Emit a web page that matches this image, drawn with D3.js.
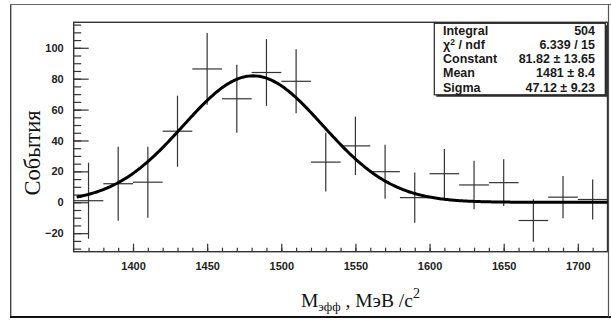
<!DOCTYPE html>
<html>
<head>
<meta charset="utf-8">
<script src="https://cdn.jsdelivr.net/npm/d3@7"></script>
<style>
  html, body { margin: 0; padding: 0; background: #fff; }
  svg { display: block; }
</style>
</head>
<body>
<svg id="chart" width="611" height="320"></svg>
<script>
// Invariant-mass histogram (20 MeV bins) with Gaussian fit
const binCenters = [1370, 1390, 1410, 1430, 1450, 1470, 1490, 1510, 1530,
                    1550, 1570, 1590, 1610, 1630, 1650, 1670, 1690, 1710];
const counts = [1, 12, 13, 46, 86.3, 67, 84, 78.3, 26,
                36.5, 19.8, 3, 18.5, 11.2, 12.7, -11.8, 3.3, 1.8];
const errors = [24.6, 24, 23, 23, 23.2, 22, 21.6, 20.7, 19,
                18.9, 17.5, 16.2, 16, 15.7, 15.1, 13.7, 13.7, 13];
const binWidth = 20;

// Fit parameters (gaus)
const fitConstant = 81.82;
const fitMean = 1481;
const fitSigma = 47.12;

// Statistics box rows
const statLabels = ["Integral", "χ2 / ndf", "Constant", "Mean", "Sigma"];
const statValues = ["504", "6.339 / 15", "81.82 ± 13.65", "1481 ± 8.4", "47.12 ± 9.23"];

const xMajorTicks = [1400, 1450, 1500, 1550, 1600, 1650, 1700];
const yMajorTicks = [-20, 0, 20, 40, 60, 80, 100];

const svg = d3.select("#chart");
const frame = { left: 73.7, right: 607.5, top: 22.3, bottom: 251.7 };

const x = d3.scaleLinear().domain([1360, 1720]).range([frame.left, frame.right]);
const y = d3.scaleLinear().domain([-32, 116.5]).range([frame.bottom, frame.top]);

// outer canvas border
const outer = svg.append("g").attr("fill", "none");
outer.append("line").attr("x1", 10.5).attr("x2", 611).attr("y1", 4.5).attr("y2", 4.5)
  .attr("stroke", "#666").attr("stroke-width", 1.2);
outer.append("line").attr("x1", 10.7).attr("x2", 10.7).attr("y1", 4.5).attr("y2", 317)
  .attr("stroke", "#444").attr("stroke-width", 1.4);
outer.append("line").attr("x1", 10).attr("x2", 611).attr("y1", 317).attr("y2", 317)
  .attr("stroke", "#111").attr("stroke-width", 2);
outer.append("line").attr("x1", 608.5).attr("x2", 608.5).attr("y1", 4.5).attr("y2", 317)
  .attr("stroke", "#555").attr("stroke-width", 1.2);

// plot frame
svg.append("rect")
  .attr("x", frame.left).attr("y", frame.top)
  .attr("width", frame.right - frame.left).attr("height", frame.bottom - frame.top)
  .attr("fill", "none").attr("stroke", "#333").attr("stroke-width", 1.4);

const tickFont = "'Liberation Sans', Arial, sans-serif";

// y axis: major and minor ticks pointing inward
const yMinor = d3.range(-30, 116, 5);
svg.append("g")
  .attr("transform", `translate(${frame.left},0)`)
  .call(d3.axisLeft(y).tickValues(yMinor).tickSize(-7.5).tickFormat(""))
  .call(g => g.select(".domain").remove())
  .call(g => g.selectAll("line").attr("stroke", "#333").attr("stroke-width", 1.2));
svg.append("g")
  .attr("transform", `translate(${frame.left},0)`)
  .call(d3.axisLeft(y).tickValues(yMajorTicks).tickSize(-15).tickPadding(10))
  .call(g => g.select(".domain").remove())
  .call(g => g.selectAll("line").attr("stroke", "#333").attr("stroke-width", 1.2))
  .call(g => g.selectAll("text")
    .attr("font-family", tickFont).attr("font-size", 11).attr("font-weight", "bold")
    .attr("fill", "#222"));

// x axis
const xMinor = d3.range(1370, 1720, 10);
svg.append("g")
  .attr("transform", `translate(0,${frame.bottom})`)
  .call(d3.axisBottom(x).tickValues(xMinor).tickSize(-4).tickFormat(""))
  .call(g => g.select(".domain").remove())
  .call(g => g.selectAll("line").attr("stroke", "#333").attr("stroke-width", 1.2));
svg.append("g")
  .attr("transform", `translate(0,${frame.bottom})`)
  .call(d3.axisBottom(x).tickValues(xMajorTicks).tickSize(-8).tickPadding(11).tickFormat(d3.format("d")))
  .call(g => g.select(".domain").remove())
  .call(g => g.selectAll("line").attr("stroke", "#333").attr("stroke-width", 1.2))
  .call(g => g.selectAll("text")
    .attr("font-family", tickFont).attr("font-size", 11).attr("font-weight", "bold")
    .attr("fill", "#222"));

// histogram points with error bars
const data = binCenters.map((c, i) => ({ c, v: counts[i], e: errors[i] }));
const pts = svg.append("g").attr("stroke", "#333").attr("stroke-width", 1.2);
pts.selectAll(".hbar").data(data).join("line")
  .attr("x1", d => x(d.c - binWidth / 2)).attr("x2", d => x(d.c + binWidth / 2))
  .attr("y1", d => y(d.v)).attr("y2", d => y(d.v));
pts.selectAll(".vbar").data(data).join("line")
  .attr("x1", d => x(d.c)).attr("x2", d => x(d.c))
  .attr("y1", d => y(d.v - d.e)).attr("y2", d => y(d.v + d.e));

// Gaussian fit curve
const gaus = m => fitConstant * Math.exp(-0.5 * Math.pow((m - fitMean) / fitSigma, 2));
const curveX = d3.range(1362, 1720.01, 1);
svg.append("path")
  .datum(curveX)
  .attr("fill", "none").attr("stroke", "#000").attr("stroke-width", 3)
  .attr("stroke-linejoin", "round")
  .attr("d", d3.line().x(m => x(m)).y(m => y(gaus(m))));

// statistics box
const box = { x: 434.3, y: 23.3, w: 171, h: 71.5 };
svg.append("rect")
  .attr("x", box.x + 2).attr("y", box.y + 2).attr("width", box.w).attr("height", box.h)
  .attr("fill", "#333");
svg.append("rect")
  .attr("x", box.x).attr("y", box.y).attr("width", box.w).attr("height", box.h)
  .attr("fill", "#fff").attr("stroke", "#222").attr("stroke-width", 1.2);

const rowY = i => 30.2 + i * 14.2;
const stats = svg.append("g")
  .attr("font-family", tickFont).attr("font-size", 12.5).attr("font-weight", "bold")
  .attr("fill", "#1a1a1a");
statLabels.forEach((lab, i) => {
  const t = stats.append("text").attr("x", 443).attr("y", rowY(i)).attr("dy", "0.36em");
  if (lab.startsWith("χ2")) {
    t.append("tspan").text("χ");
    t.append("tspan").attr("font-size", 8.5).attr("dy", -4).text("2");
    t.append("tspan").attr("dy", 4).text(" / ndf");
  } else {
    t.text(lab);
  }
  stats.append("text").attr("x", 595).attr("y", rowY(i)).attr("dy", "0.36em")
    .attr("text-anchor", "end").text(statValues[i]);
});

// axis titles
const serif = "'Liberation Serif', 'Times New Roman', serif";
svg.append("text")
  .attr("transform", "translate(40,153) rotate(-90)")
  .attr("text-anchor", "middle")
  .attr("font-family", serif).attr("font-size", 22.5).attr("fill", "#111")
  .text("События");

const xt = svg.append("text")
  .attr("x", 301).attr("y", 306.5)
  .attr("font-family", serif).attr("font-size", 19.5).attr("fill", "#111");
xt.append("tspan").text("М");
xt.append("tspan").attr("font-size", 13).attr("dy", 4).text("эфф");
xt.append("tspan").attr("dy", -4).text(" , МэВ /c");
xt.append("tspan").attr("font-size", 14).attr("dy", -9).text("2");
</script>
</body>
</html>
